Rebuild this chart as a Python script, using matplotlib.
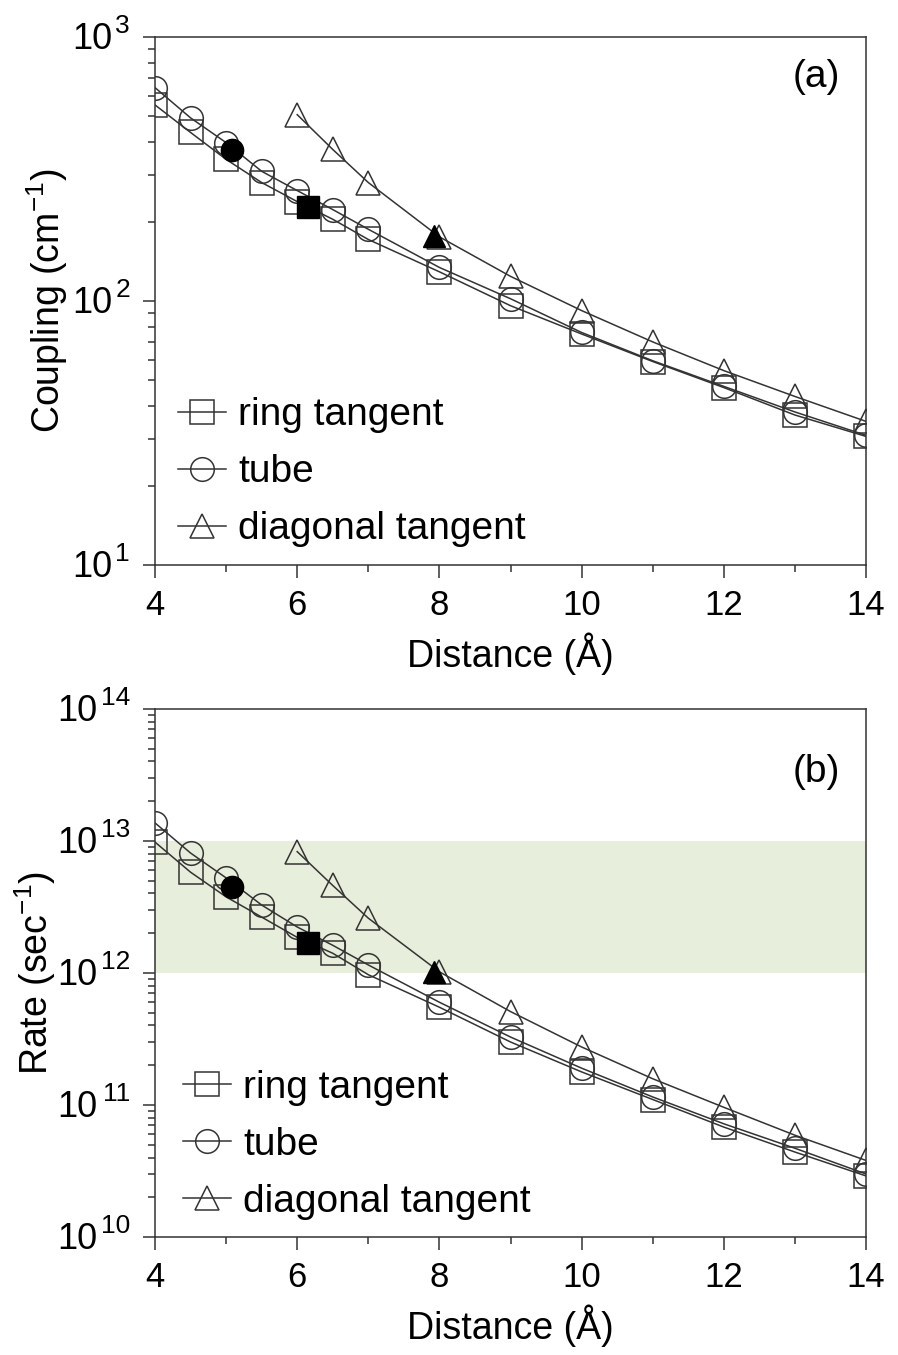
import numpy as np
import matplotlib
matplotlib.use('Agg')
import matplotlib.pyplot as plt
from matplotlib.ticker import LogLocator, MultipleLocator, NullFormatter

plt.rcParams['font.family'] = ['Liberation Sans', 'DejaVu Sans']
plt.rcParams['mathtext.fontset'] = 'custom'
plt.rcParams['mathtext.rm'] = 'Liberation Sans'
plt.rcParams['mathtext.it'] = 'Liberation Sans:italic'
plt.rcParams['axes.unicode_minus'] = True

# distances (Angstrom)
x_all = [4, 4.5, 5, 5.5, 6, 6.5, 7, 8, 9, 10, 11, 12, 13, 14]
x_diag = [6, 6.5, 7, 8, 9, 10, 11, 12, 13, 14]

# panel (a): coupling in cm^-1
coupling_ring = [553, 435, 344, 281, 238, 204, 171, 129, 96, 75, 59, 47, 37, 30.7]
coupling_tube = [643, 494, 398, 310, 262, 222, 187, 134, 102, 76, 59.4, 47.5, 38, 31]
coupling_diag = [508, 375, 281, 175, 124, 92, 70, 54.5, 43.5, 35]

# panel (b): rate in sec^-1
rate_ring = [9.8e12, 5.8e12, 3.77e12, 2.65e12, 1.86e12, 1.41e12, 9.7e11, 5.5e11,
             3.0e11, 1.78e11, 1.1e11, 6.8e10, 4.4e10, 2.9e10]
rate_tube = [1.37e13, 8.1e12, 5.25e12, 3.27e12, 2.23e12, 1.62e12, 1.15e12, 6.0e11,
             3.27e11, 1.9e11, 1.15e11, 7.2e10, 4.7e10, 3.0e10]
rate_diag = [8.3e12, 4.6e12, 2.6e12, 1.02e12, 5.1e11, 2.75e11, 1.58e11, 9.6e10, 5.9e10, 3.8e10]

# filled (special) points: tube, ring tangent, diagonal tangent
x_filled = [5.08, 6.15, 7.92]
coupling_filled = [372, 228, 177]
rate_filled = [4.5e12, 1.69e12, 1.02e12]
filled_markers = ['o', 's', '^']

band = [1e12, 1e13]

labels = ['ring tangent', 'tube', 'diagonal tangent']
col = '#333333'

fig = plt.figure(figsize=(8.98, 13.55), dpi=100)
ax_a = fig.add_axes([0.1726, 0.583, 0.7918, 0.3897])
ax_b = fig.add_axes([0.1726, 0.0871, 0.7918, 0.3897])


def draw(ax, yring, ytube, ydiag, yfill, decades, ylabel, label_x, tag, tag_y, leg_anchor):
    kw = dict(color=col, lw=1.1, mfc='none', mec=col, mew=1.1, ms=17)
    ax.plot(x_all, yring, marker='s', label=labels[0], **kw)
    ax.plot(x_all, ytube, marker='o', label=labels[1], **kw)
    ax.plot(x_diag, ydiag, marker='^', label=labels[2], **kw)
    for xf, yf, m in zip(x_filled, yfill, filled_markers):
        ax.plot(xf, yf, marker=m, ls='none', color='black', ms=16,
                mec='black', zorder=5)
    ax.set_yscale('log')
    ax.set_xlim(4, 14)
    ax.set_ylim(10.0 ** decades[0], 10.0 ** decades[-1])
    ax.xaxis.set_major_locator(MultipleLocator(2))
    ax.xaxis.set_minor_locator(MultipleLocator(1))
    ax.yaxis.set_major_locator(LogLocator(base=10, numticks=20))
    ax.yaxis.set_minor_locator(LogLocator(base=10, subs=np.arange(2, 10), numticks=20))
    ax.yaxis.set_major_formatter(NullFormatter())
    ax.tick_params(which='major', direction='out', length=9, width=1.1,
                   color=col, pad=8)
    ax.tick_params(axis='x', labelsize=25)
    ax.tick_params(which='minor', direction='out', length=5, width=1.1, color=col)
    ax.tick_params(top=False, right=False, which='both')
    for s in ax.spines.values():
        s.set_color(col)
        s.set_linewidth(1.1)
    # y tick labels 10^n with a large exponent, right-aligned like the original
    for d in decades:
        sup = str(d)
        ax.annotate(sup, xy=(0, 10.0 ** d), xycoords=('axes fraction', 'data'),
                    xytext=(-18, 8), textcoords='offset points', ha='right', va='center',
                    fontsize=19)
        ax.annotate('10', xy=(0, 10.0 ** d), xycoords=('axes fraction', 'data'),
                    xytext=(-20 - 10.6 * len(sup), -2), textcoords='offset points',
                    ha='right', va='center', fontsize=26)
    ax.set_xlabel('Distance (Å)', fontsize=27, labelpad=8)
    ax.set_ylabel(ylabel, fontsize=27)
    ax.yaxis.set_label_coords(label_x, 0.5)
    ax.text(0.963, tag_y, tag, transform=ax.transAxes, fontsize=28, ha='right', va='center')
    ax.legend(loc='lower left', bbox_to_anchor=leg_anchor, frameon=False, fontsize=28,
              handlelength=1.23, handletextpad=0.31, labelspacing=0.54, borderaxespad=0)


draw(ax_a, coupling_ring, coupling_tube, coupling_diag, coupling_filled, [1, 2, 3],
     'Coupling (cm$^{-1}$)', -0.119, '(a)', 0.925, (0.011, 0.004))
ax_b.axhspan(band[0], band[1], color='#e8eedc', zorder=0, lw=0)
draw(ax_b, rate_ring, rate_tube, rate_diag, rate_filled, [10, 11, 12, 13, 14],
     'Rate (sec$^{-1}$)', -0.137, '(b)', 0.88, (0.0175, 0.003))

fig.savefig('out.png', dpi=100)
